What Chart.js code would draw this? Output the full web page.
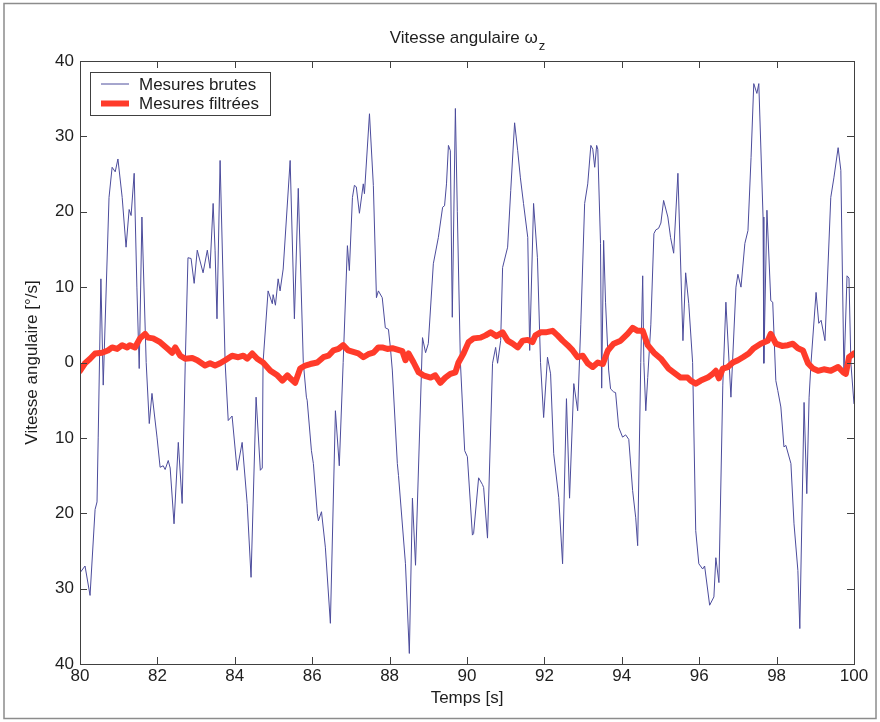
<!DOCTYPE html>
<html>
<head>
<meta charset="utf-8">
<title>Vitesse angulaire</title>
<script src="https://cdn.jsdelivr.net/npm/chart.js@4.4.1/dist/chart.umd.min.js"></script>
<style>
  html, body { margin: 0; padding: 0; background: #fff; }
  canvas { display: block; }
</style>
</head>
<body>
<canvas id="chart" width="880" height="722"></canvas>
<script>
const rawTimes = [
  80.00, 80.13, 80.26, 80.39, 80.44, 80.47, 80.54, 80.60, 80.75, 80.83, 80.91, 80.98,
  81.09, 81.19, 81.27, 81.32, 81.40, 81.47, 81.53, 81.60, 81.71, 81.79, 81.86, 81.99,
  82.07, 82.15, 82.20, 82.28, 82.33, 82.43, 82.54, 82.64, 82.72, 82.79, 82.87, 82.95,
  83.03, 83.18, 83.29, 83.36, 83.44, 83.49, 83.54, 83.62, 83.75, 83.83, 83.93, 84.06,
  84.19, 84.32, 84.42, 84.55, 84.66, 84.71, 84.73, 84.86, 84.97, 84.99, 85.05, 85.12,
  85.17, 85.25, 85.43, 85.54, 85.64, 85.77, 85.85, 85.87, 85.98, 86.03, 86.13, 86.16,
  86.24, 86.34, 86.47, 86.60, 86.70, 86.80, 86.91, 86.96, 87.04, 87.09, 87.14, 87.22,
  87.32, 87.35, 87.48, 87.58, 87.66, 87.71, 87.81, 87.89, 87.97, 88.02, 88.07, 88.20,
  88.23, 88.41, 88.51, 88.59, 88.67, 88.85, 88.93, 89.00, 89.13, 89.26, 89.37, 89.42,
  89.47, 89.52, 89.57, 89.62, 89.70, 89.75, 89.83, 89.94, 90.01, 90.14, 90.17, 90.30,
  90.40, 90.43, 90.53, 90.66, 90.74, 90.79, 90.87, 90.92, 91.05, 91.13, 91.23, 91.31,
  91.38, 91.46, 91.57, 91.62, 91.72, 91.82, 91.90, 91.98, 92.08, 92.16, 92.24, 92.37,
  92.47, 92.57, 92.65, 92.76, 92.86, 92.94, 93.04, 93.12, 93.20, 93.25, 93.30, 93.35,
  93.38, 93.45, 93.48, 93.53, 93.58, 93.66, 93.71, 93.79, 93.84, 93.92, 94.02, 94.10,
  94.18, 94.28, 94.36, 94.41, 94.49, 94.54, 94.57, 94.62, 94.67, 94.75, 94.83, 94.88,
  94.95, 95.01, 95.08, 95.19, 95.26, 95.34, 95.45, 95.58, 95.65, 95.73, 95.83, 95.91,
  95.99, 96.09, 96.14, 96.27, 96.38, 96.43, 96.51, 96.61, 96.69, 96.82, 96.95, 97.00,
  97.08, 97.18, 97.26, 97.34, 97.41, 97.49, 97.54, 97.65, 97.67, 97.75, 97.85, 97.90,
  97.98, 98.03, 98.11, 98.19, 98.24, 98.37, 98.45, 98.55, 98.60, 98.71, 98.78, 98.84,
  98.89, 99.02, 99.09, 99.15, 99.25, 99.40, 99.48, 99.59, 99.66, 99.74, 99.82, 99.87,
  99.92, 100.00
];
const rawValues = [
  -27.9, -27.0, -30.9, -19.5, -18.5, -10.0, 11.1, -3.0, 21.9, 25.9, 25.3, 27.0,
  21.9, 15.3, 20.3, 19.5, 25.1, 10.0, -0.8, 19.3, 0.0, -8.1, -4.1, -9.9,
  -13.9, -13.7, -14.2, -13.0, -14.0, -21.4, -10.6, -18.7, 0.0, 13.9, 13.8, 10.5,
  14.9, 11.9, 14.9, 12.5, 21.1, 14.9, 5.8, 26.8, 0.0, -7.7, -7.1, -14.3,
  -10.6, -18.7, -28.5, -4.6, -14.3, -14.0, 0.0, 9.5, 7.8, 9.0, 7.6, 11.1,
  9.5, 12.4, 26.8, 5.8, 23.1, 0.0, -4.6, -5.0, -11.7, -13.4, -20.0, -21.0,
  -19.8, -24.5, -34.6, -6.4, -13.7, 0.0, 15.5, 12.2, 21.9, 23.5, 23.3, 19.8,
  23.7, 22.4, 33.0, 23.5, 8.6, 9.5, 8.6, 4.6, 4.4, 2.0, -1.0, -13.4,
  -15.0, -26.7, -38.6, -18.0, -26.9, 3.3, 1.3, 2.5, 13.1, 16.6, 20.6, 20.8,
  23.7, 28.8, 28.1, 6.0, 33.7, 20.0, 0.0, -11.7, -12.5, -22.9, -22.7, -15.3,
  -16.2, -16.6, -23.3, -0.1, 2.0, -0.1, 2.9, 12.6, 15.3, 22.8, 31.8, 28.1,
  24.5, 21.1, 16.6, 1.6, 21.1, 13.9, 0.0, -7.3, 0.7, -1.5, -12.1, -17.9,
  -26.7, -4.8, -18.0, -2.8, -6.4, 5.0, 21.1, 23.7, 28.8, 28.3, 25.9, 28.8,
  28.3, 15.8, -3.4, 16.2, 8.0, -1.0, -3.5, -3.9, -4.0, -8.6, -9.9, -9.6,
  -10.2, -17.0, -20.6, -24.3, 0.0, 11.5, 0.0, -6.4, -2.0, 5.0, 17.1, 17.6,
  17.8, 18.5, 21.5, 19.3, 16.6, 14.5, 25.1, 2.9, 11.9, 7.8, 0.0, -22.3,
  -26.7, -27.4, -27.0, -32.2, -31.1, -25.9, -29.2, -3.0, 8.0, -4.6, 10.0, 11.7,
  10.0, 15.8, 17.5, 27.2, 37.0, 35.7, 37.0, 19.3, -0.1, 20.2, 8.2, 8.0,
  -2.4, -3.7, -5.9, -11.2, -11.0, -13.4, -21.4, -27.6, -35.3, -5.3, -17.4, -4.6,
  0.0, 9.3, 5.2, 5.6, 2.9, 21.9, 24.5, 28.5, 25.5, -1.5, 11.5, 11.2,
  -0.1, -5.5
];

// Mesures filtrées
const filtTimes = [
  80.00, 80.13, 80.26, 80.39, 80.57, 80.72, 80.83, 80.96, 81.09, 81.22, 81.29, 81.42,
  81.55, 81.68, 81.76, 81.89, 82.07, 82.25, 82.38, 82.46, 82.59, 82.72, 82.90, 83.03,
  83.23, 83.36, 83.49, 83.62, 83.75, 83.93, 84.09, 84.22, 84.32, 84.45, 84.58, 84.73,
  84.92, 85.10, 85.23, 85.36, 85.43, 85.56, 85.69, 85.82, 85.95, 86.13, 86.29, 86.42,
  86.55, 86.68, 86.80, 86.93, 87.06, 87.19, 87.32, 87.45, 87.58, 87.71, 87.81, 87.94,
  88.07, 88.20, 88.33, 88.41, 88.49, 88.62, 88.75, 88.87, 89.06, 89.18, 89.31, 89.44,
  89.57, 89.70, 89.78, 89.91, 90.04, 90.17, 90.35, 90.48, 90.61, 90.76, 90.92, 91.05,
  91.18, 91.31, 91.44, 91.57, 91.69, 91.77, 91.90, 92.03, 92.21, 92.34, 92.47, 92.60,
  92.73, 92.86, 92.99, 93.12, 93.25, 93.38, 93.51, 93.64, 93.79, 93.97, 94.15, 94.28,
  94.41, 94.54, 94.67, 94.83, 95.01, 95.21, 95.39, 95.52, 95.70, 95.78, 95.91, 96.04,
  96.22, 96.35, 96.43, 96.51, 96.61, 96.74, 96.87, 97.00, 97.13, 97.28, 97.41, 97.59,
  97.77, 97.85, 97.98, 98.14, 98.29, 98.42, 98.55, 98.68, 98.81, 98.94, 99.07, 99.22,
  99.40, 99.59, 99.72, 99.79, 99.87, 100.00
];
const filtValues = [
  -1.1, -0.1, 0.5, 1.2, 1.3, 1.6, 2.0, 1.8, 2.3, 2.0, 2.3, 2.0,
  3.2, 3.8, 3.3, 3.2, 2.7, 1.9, 1.3, 2.0, 0.9, 0.5, 0.6, 0.3,
  -0.4, -0.1, -0.4, -0.1, 0.3, 0.9, 0.7, 0.9, 0.5, 1.2, 0.5, 0.0,
  -1.1, -1.7, -2.4, -1.7, -2.1, -2.7, -0.8, -0.4, -0.2, 0.0, 0.7, 0.9,
  1.6, 1.8, 2.3, 1.6, 1.4, 1.2, 0.7, 1.1, 1.3, 2.0, 2.0, 1.8,
  1.9, 1.7, 1.5, 0.3, 1.2, 0.0, -1.3, -1.7, -2.0, -1.7, -2.7, -2.0,
  -1.5, -1.3, 0.0, 1.2, 2.7, 3.2, 3.3, 3.6, 4.0, 3.5, 4.0, 2.9,
  2.5, 2.0, 2.9, 3.0, 2.7, 3.6, 4.0, 4.0, 4.2, 3.6, 2.9, 2.3,
  1.6, 0.7, 0.9, -0.1, -0.6, 0.0, -0.2, 1.6, 2.5, 2.9, 3.8, 4.6,
  4.2, 4.2, 2.3, 1.3, 0.5, -0.8, -1.5, -2.0, -2.0, -2.4, -2.8, -2.4,
  -2.0, -1.5, -1.1, -2.1, -0.8, -0.6, 0.0, 0.3, 0.7, 1.2, 1.9, 2.5,
  2.9, 3.8, 2.5, 2.2, 2.3, 2.5, 1.9, 1.6, -0.1, -0.8, -1.1, -0.9,
  -1.1, -0.6, -1.3, -1.5, 0.7, 1.2
];

const xTicks = [80, 82, 84, 86, 88, 90, 92, 94, 96, 98, 100];
const yTicks = [-40, -30, -20, -10, 0, 10, 20, 30, 40];

const FONT = "'Liberation Sans', Arial, Helvetica, sans-serif";
const TEXT = '#1e1e1e';

function toPoints(xs, ys) {
  return xs.map((x, i) => ({ x: x, y: ys[i] }));
}

// cadre, graduations intérieures, titre et légende façon Matlab
const matlabFrame = {
  id: 'matlabFrame',
  beforeDraw(chart) {
    const ctx = chart.ctx;
    ctx.save();
    ctx.fillStyle = '#fff';
    ctx.fillRect(0, 0, chart.width, chart.height);
    ctx.strokeStyle = '#8c8c8c';
    ctx.lineWidth = 1.5;
    ctx.strokeRect(4, 3.5, 872, 715);
    ctx.restore();
  },
  afterDraw(chart) {
    const { ctx, chartArea: a, scales: { x, y } } = chart;
    ctx.save();
    ctx.strokeStyle = '#404040';
    ctx.lineWidth = 1;
    ctx.strokeRect(a.left + 0.5, a.top + 0.5, a.width, a.height);
    ctx.beginPath();
    x.ticks.forEach(t => {
      const px = Math.round(x.getPixelForValue(t.value)) + 0.5;
      ctx.moveTo(px, a.bottom); ctx.lineTo(px, a.bottom - 7);
      ctx.moveTo(px, a.top); ctx.lineTo(px, a.top + 7);
    });
    y.ticks.forEach(t => {
      const py = Math.round(y.getPixelForValue(t.value)) + 0.5;
      ctx.moveTo(a.left, py); ctx.lineTo(a.left + 7, py);
      ctx.moveTo(a.right, py); ctx.lineTo(a.right - 7, py);
    });
    ctx.stroke();

    // titre avec indice
    const main = 'Vitesse angulaire \u03c9';
    ctx.fillStyle = TEXT;
    ctx.font = '17px ' + FONT;
    const w1 = ctx.measureText(main).width;
    ctx.font = '13px ' + FONT;
    const w2 = ctx.measureText('z').width;
    const cx = (a.left + a.right) / 2;
    const x0 = cx - (w1 + w2) / 2;
    ctx.textBaseline = 'alphabetic';
    ctx.textAlign = 'left';
    ctx.font = '17px ' + FONT;
    ctx.fillText(main, x0, 43);
    ctx.font = '13px ' + FONT;
    ctx.fillText('z', x0 + w1 + 1, 50);

    // légende
    const lx = 90.5, ly = 72.5, lw = 180, lh = 43;
    ctx.fillStyle = '#fff';
    ctx.fillRect(lx, ly, lw, lh);
    ctx.strokeStyle = '#404040';
    ctx.lineWidth = 1;
    ctx.strokeRect(lx, ly, lw, lh);
    chart.data.datasets.forEach((ds, i) => {
      const yy = ly + 11.5 + i * 19.5;
      ctx.strokeStyle = ds.borderColor;
      ctx.lineWidth = ds.borderWidth;
      ctx.beginPath();
      ctx.moveTo(101, yy);
      ctx.lineTo(129, yy);
      ctx.stroke();
      ctx.fillStyle = TEXT;
      ctx.font = '17px ' + FONT;
      ctx.textBaseline = 'middle';
      ctx.fillText(ds.label, 139, yy + 1);
    });
    ctx.restore();
  }
};

const chart = new Chart(document.getElementById('chart'), {
  type: 'line',
  data: {
    datasets: [
      {
        label: 'Mesures brutes',
        data: toPoints(rawTimes, rawValues),
        borderColor: '#4c4c9c',
        borderWidth: 1,
        pointRadius: 0,
        tension: 0,
        order: 2
      },
      {
        label: 'Mesures filtrées',
        data: toPoints(filtTimes, filtValues),
        borderColor: '#ff3b2a',
        borderWidth: 6,
        pointRadius: 0,
        tension: 0,
        borderJoinStyle: 'round',
        borderCapStyle: 'round',
        order: 1
      }
    ]
  },
  options: {
    responsive: false,
    animation: false,
    layout: { padding: { top: 61, right: 26, left: 0, bottom: 0 } },
    plugins: {
      legend: { display: false },
      title: { display: false },
      tooltip: { enabled: false }
    },
    scales: {
      x: {
        type: 'linear',
        min: 80,
        max: 100,
        afterBuildTicks: s => { s.ticks = xTicks.map(v => ({ value: v })); },
        afterFit: s => { s.height = 58; },
        grid: { display: false, drawTicks: false },
        border: { display: false },
        ticks: { color: TEXT, font: { family: FONT, size: 17 }, padding: 2, maxRotation: 0 },
        title: { display: true, text: 'Temps [s]', color: TEXT, font: { family: FONT, size: 17 }, padding: { top: 0, bottom: 13 } }
      },
      y: {
        min: -40,
        max: 40,
        afterBuildTicks: s => { s.ticks = yTicks.map(v => ({ value: v })); },
        afterFit: s => { s.width = 80; },
        grid: { display: false, drawTicks: false },
        border: { display: false },
        ticks: { color: TEXT, font: { family: FONT, size: 17 }, padding: 6, callback: v => String(Math.abs(v)) },
        title: { display: true, text: 'Vitesse angulaire [°/s]', color: TEXT, font: { family: FONT, size: 17 }, padding: { top: 22, bottom: 0 } }
      }
    }
  },
  plugins: [matlabFrame]
});
</script>
</body>
</html>
